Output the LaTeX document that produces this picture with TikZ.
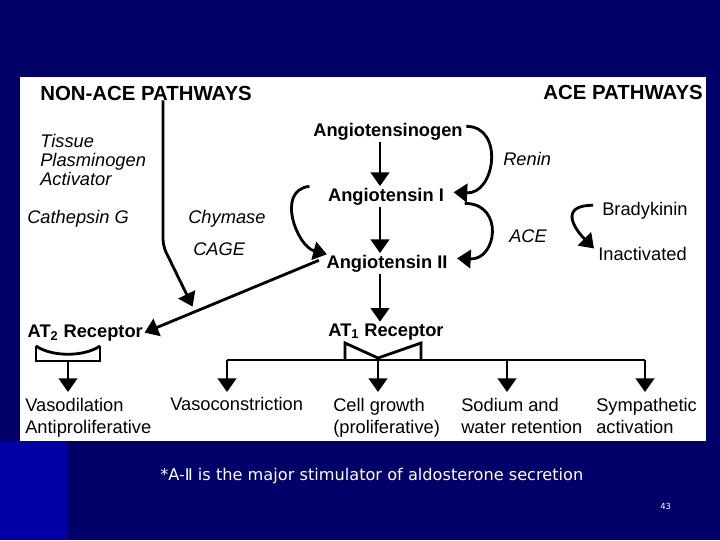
\documentclass[tikz,border=0pt]{standalone}
\usepackage{fontspec}
\setmainfont{Liberation Sans}
\newfontfamily\notefont{DejaVu Sans}
\usetikzlibrary{arrows.meta}
\definecolor{slidebg}{RGB}{0,0,104}
\definecolor{slideedge}{RGB}{0,0,165}

\begin{document}
\begin{tikzpicture}[x=0.025cm, y=-0.025cm,
    flow/.style={line width=2pt, -{Triangle[length=3.4mm,width=4.6mm]}},
    bond/.style={line width=2pt},
    title/.style={font=\fontsize{14.5}{17}\selectfont\bfseries, inner sep=0pt},
    hormone/.style={font=\fontsize{13}{15}\selectfont\bfseries, inner sep=1pt},
    enzyme/.style={font=\fontsize{13}{14}\selectfont\itshape, inner sep=0pt, align=left},
    effect/.style={font=\fontsize{13}{15.5}\selectfont, inner sep=0pt, align=left}]
    % Slide background and white panel
    \fill[slidebg] (0,0) rectangle (720,540);
    \fill[slideedge] (0,441) rectangle (68,540);
    \fill[white] (20,77) rectangle (706,441);

    % Headings
    \node[title, anchor=base west] (nonace) at (40,100) {NON-ACE PATHWAYS};
    \node[title, anchor=base east] (ace) at (703,99) {ACE PATHWAYS};

    % Enzymes
    \node[enzyme, anchor=base west] (tpa) at (40,147) {Tissue};
    \node[enzyme, anchor=base west] (plasm) at (40,166) {Plasminogen};
    \node[enzyme, anchor=base west] (activ) at (40,185) {Activator};
    \node[enzyme, anchor=base west] (cath) at (27,223) {Cathepsin G};
    \node[enzyme, anchor=base west] (chym) at (188,223) {Chymase};
    \node[enzyme, anchor=base west] (cage) at (193,255) {CAGE};
    \node[enzyme, anchor=base west] (renin) at (503,165) {Renin};
    \node[enzyme, anchor=base west] (acez) at (509,242) {ACE};

    % Angiotensins and receptors
    \node[hormone, anchor=base] (aogen) at (388,136) {Angiotensinogen};
    \node[hormone, anchor=base] (ang1) at (386,201) {Angiotensin I};
    \node[hormone, anchor=base] (ang2) at (387,268) {Angiotensin II};
    \node[hormone, anchor=base] (at1) at (386,336) {AT\textsubscript{1} Receptor};
    \node[hormone, anchor=base west] (at2) at (26,337) {AT\textsubscript{2} Receptor};
    \node[effect, anchor=base west] (brady) at (602,215) {Bradykinin};
    \node[effect, anchor=base west] (inact) at (598,260) {Inactivated};

    % Effects
    \node[effect, anchor=base west] (vasod) at (25,433) {Vasodilation\\Antiproliferative};
    \node[effect, anchor=base west] (vasoc) at (170,410) {Vasoconstriction};
    \node[effect, anchor=base west] (growth) at (333,433) {Cell growth\\(proliferative)};
    \node[effect, anchor=base west] (sodium) at (461,433) {Sodium and\\water retention};
    \node[effect, anchor=base west] (symp) at (596,433) {Sympathetic\\activation};

    % Main cascade
    \coordinate (spine) at (380,0);
    \draw[flow] (aogen.south -| spine) -- (ang1.north -| spine);
    \draw[flow] (ang1.south -| spine) -- (ang2.north -| spine);
    \draw[flow] (ang2.south -| spine) -- (at1.north -| spine);
    \draw[flow] ([shift={(2,-5)}]aogen.east) .. controls +(38,0) and +(42,2) .. ([shift={(8,-4)}]ang1.east); % Renin
    \draw[flow] ([shift={(19,7)}]ang1.east) .. controls +(40,0) and +(40,2) .. ([shift={(8,-5)}]ang2.east); % ACE
    \draw[flow] ([shift={(-17,-10)}]ang1.west) .. controls +(-34,4) and +(-30,-8) .. ([shift={(2,-9)}]ang2.west); % Chymase
    \draw[flow] ([shift={(-9,-5)}]brady.west) .. controls +(-34,0) and +(-20,-20) .. ([shift={(-4,-5)}]inact.west);

    % Non-ACE route to AT2
    \draw[flow] ([shift={(-6,-3)}]ang2.west) -- (at2.east);
    \path ([shift={(-6,-3)}]ang2.west) -- (at2.east) coordinate[pos=0.71] (hit);
    \coordinate (bend) at (163,246);
    \draw[flow, rounded corners=5pt, shorten >=4pt] (nonace.south -| bend) -- (bend) -- (hit);

    % AT2 receptor cup
    \draw[bond] (36,346) -- (36,361) -- (100,361) -- (100,346);
    \draw[bond] (36,346) .. controls (52,357) and (84,357) .. (100,346);
    \coordinate (cup) at (68,361);
    \coordinate (tips) at (0,392);
    \draw[flow] (cup) -- (cup |- tips);

    % AT1 receptor and effects
    \draw[bond] (345,360) -- (345,343) -- (378,358) -- (421,343) -- (421,360);
    \coordinate (bus) at (0,360);
    \draw[bond] (227,360) -- (645,360);
    \foreach \bx in {227, 378, 507, 645}
        \draw[flow] (\bx,0 |- bus) -- (\bx,0 |- tips);

    % Footnote and page number
    \node[font=\notefont\fontsize{11.5}{14}\selectfont, text=white, anchor=base west, inner sep=0pt] (note) at (160,480) {*A-Ⅱ is the major stimulator of aldosterone secretion};
    \node[font=\notefont\fontsize{6}{7}\selectfont, text=white, anchor=base west, inner sep=0pt] (page) at (660,509) {43};
\end{tikzpicture}
\end{document}
